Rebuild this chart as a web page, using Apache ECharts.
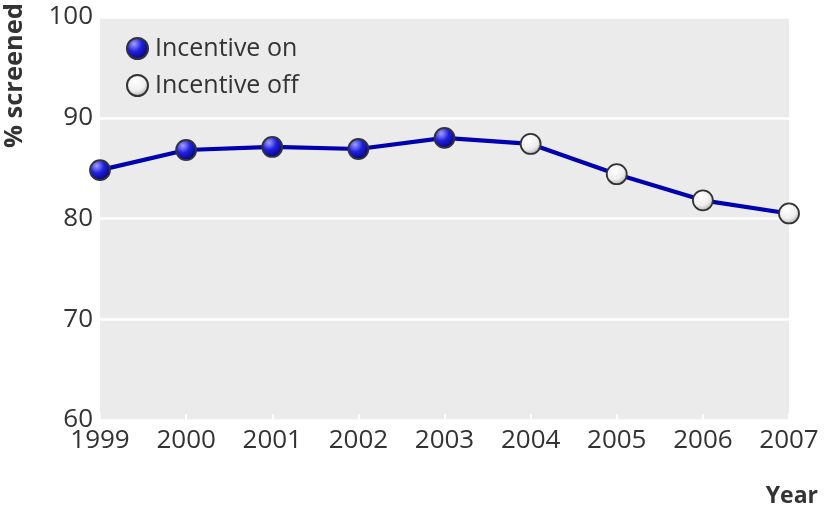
<!DOCTYPE html>
<html><head><meta charset="utf-8">
<script src="https://cdn.jsdelivr.net/npm/echarts@6/dist/echarts.min.js"></script>
<style>html,body{margin:0;padding:0;background:#fff}#c{width:824px;height:516px}</style>
</head><body><div id="c"></div>
<script>
const years = ['1999','2000','2001','2002','2003','2004','2005','2006','2007'];
const screened = [84.8, 86.8, 87.1, 86.9, 88.0, 87.4, 84.4, 81.8, 80.5];
const incentiveOn = [true, true, true, true, true, false, false, false, false];
const yTicks = [60, 70, 80, 90, 100];

const FONT = 'Open Sans';
const onData = screened.map((v, i) => incentiveOn[i] ? [years[i], v] : null).filter(d => d);
const offData = screened.map((v, i) => !incentiveOn[i] ? [years[i], v] : null).filter(d => d);

const blueGrad = new echarts.graphic.RadialGradient(0.35, 0.3, 0.75, [
  {offset: 0, color: '#a0a0ff'}, {offset: 0.45, color: '#2020e0'}, {offset: 1, color: '#000070'}]);
const whiteGrad = new echarts.graphic.RadialGradient(0.4, 0.3, 0.8, [
  {offset: 0, color: '#ffffff'}, {offset: 0.55, color: '#eeeeee'}, {offset: 1, color: '#9a9a9a'}]);

const chart = echarts.init(document.getElementById('c'), null, {renderer: 'canvas'});
chart.setOption({
  animation: false,
  backgroundColor: '#fff',
  grid: {left: 100, right: 35, top: 17, bottom: 96, show: true, backgroundColor: '#ebebeb', borderWidth: 0},
  legend: {
    orient: 'vertical', left: 121, top: 25, itemGap: 0, itemWidth: 21, itemHeight: 21,
    icon: 'circle',
    textStyle: {fontFamily: FONT, fontSize: 25, color: '#333', padding: [0, 0, 0, 2], lineHeight: 37},
    data: ['Incentive on', 'Incentive off']
  },
  xAxis: {
    type: 'category', data: years, boundaryGap: false,
    axisLine: {show: false},
    axisTick: {show: true, inside: true, length: 6, lineStyle: {color: '#fff', width: 2}},
    axisLabel: {fontFamily: FONT, fontSize: 26, color: '#333', margin: 8},
    splitLine: {show: false}
  },
  yAxis: {
    type: 'value', min: yTicks[0], max: yTicks[yTicks.length - 1], interval: 10,
    axisLine: {show: false}, axisTick: {show: false},
    axisLabel: {fontFamily: FONT, fontSize: 26, color: '#333', margin: 7},
    splitLine: {show: true, lineStyle: {color: '#fff', width: 2.5}}
  },
  graphic: [
    {type: 'text', left: 2, top: 3, rotation: Math.PI / 2,
     style: {text: '% screened', font: 'bold 25.5px "Open Sans"', fill: '#333', align: 'right', verticalAlign: 'top'}},
    {type: 'text', right: 6, top: 485,
     style: {text: 'Year', font: 'bold 23px "Open Sans"', fill: '#333'}}
  ],
  series: [
    {type: 'line', data: screened, symbol: 'none', lineStyle: {color: '#0000b0', width: 4.2}, z: 2, silent: true},
    {name: 'Incentive on', type: 'scatter', data: onData, symbolSize: 20, z: 3,
     itemStyle: {color: blueGrad, borderColor: '#333', borderWidth: 1.8, opacity: 1}},
    {name: 'Incentive off', type: 'scatter', data: offData, symbolSize: 20, z: 3,
     itemStyle: {color: whiteGrad, borderColor: '#333', borderWidth: 1.8, opacity: 1}}
  ]
});
</script></body></html>
